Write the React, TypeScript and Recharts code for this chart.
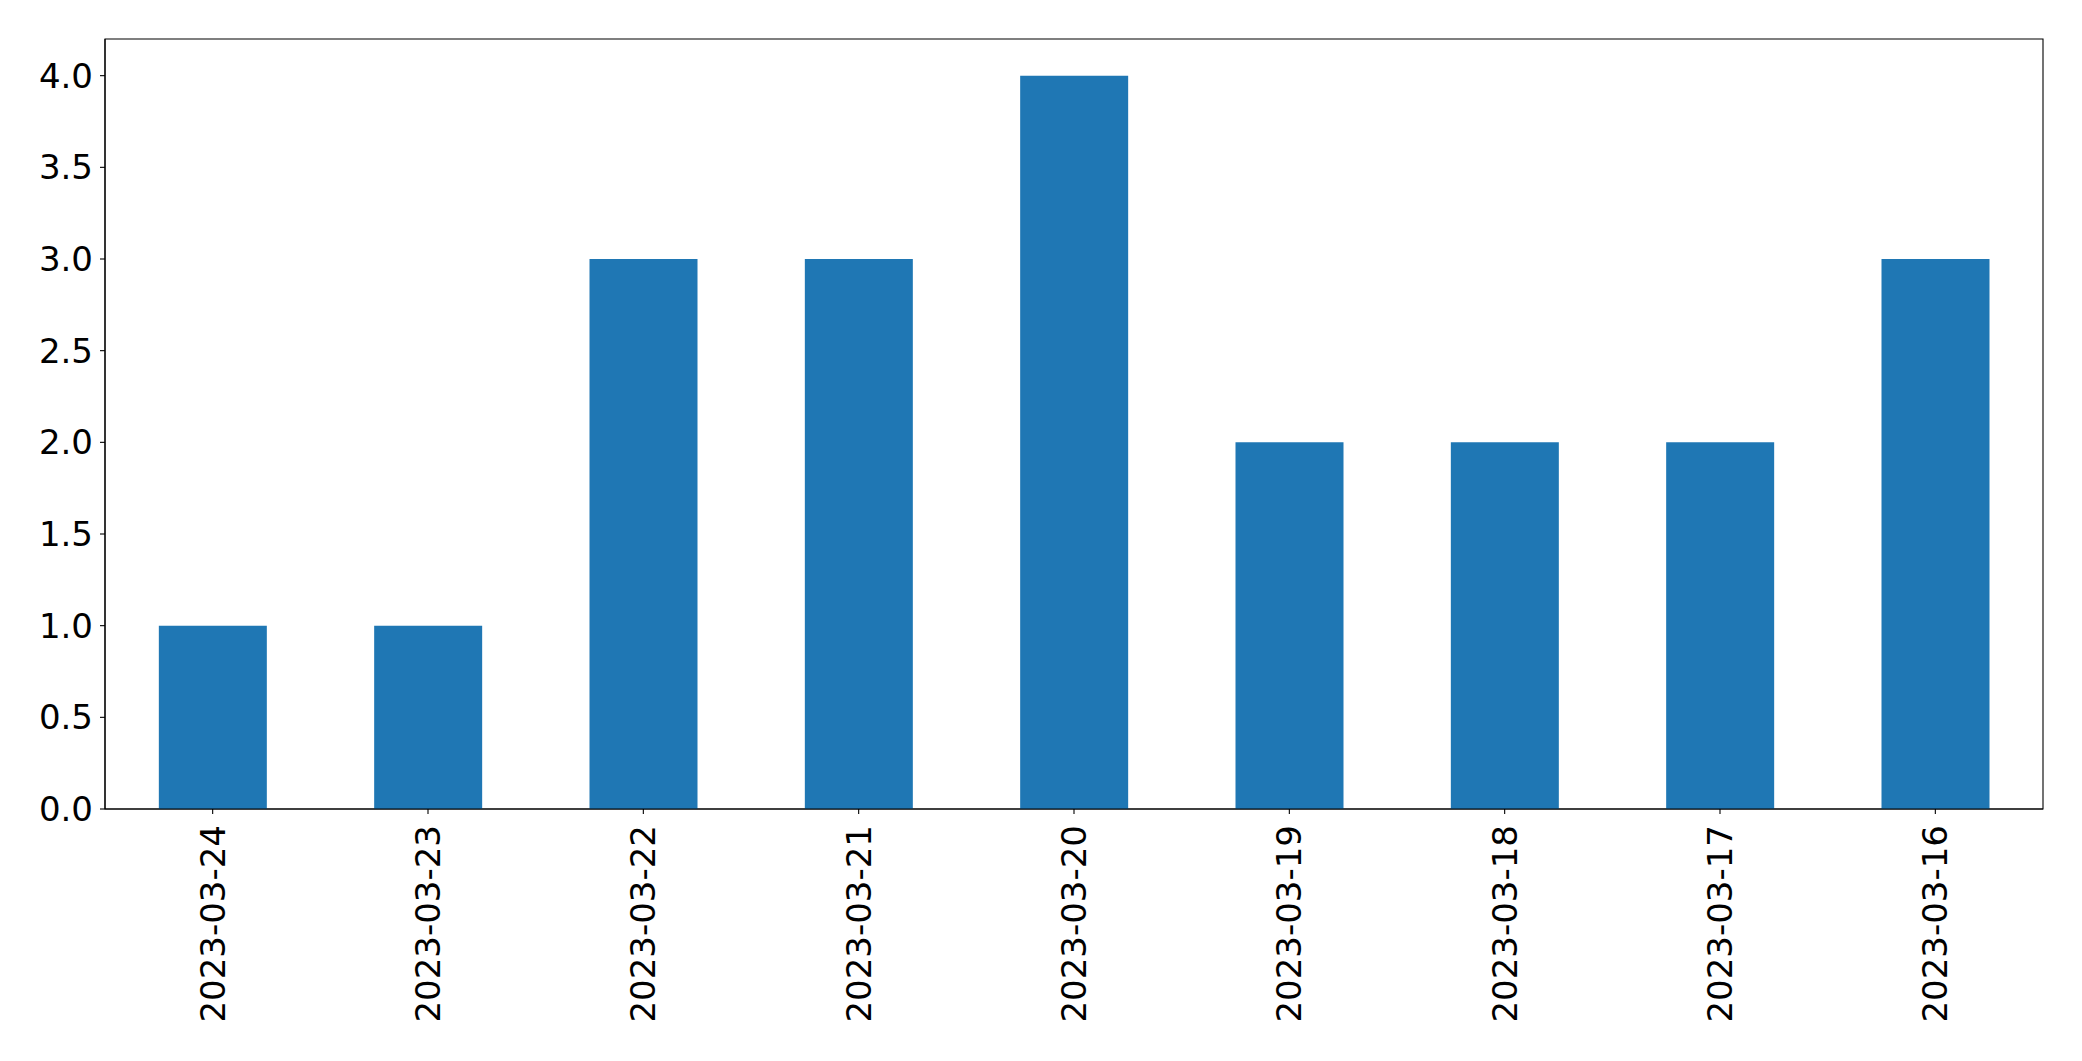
import { BarChart, Bar, XAxis, YAxis, ReferenceArea } from "recharts";

const dates = [
  "2023-03-24",
  "2023-03-23",
  "2023-03-22",
  "2023-03-21",
  "2023-03-20",
  "2023-03-19",
  "2023-03-18",
  "2023-03-17",
  "2023-03-16",
];
const counts = [1, 1, 3, 3, 4, 2, 2, 2, 3];
const yTicks = [0, 0.5, 1, 1.5, 2, 2.5, 3, 3.5, 4];

const data = dates.map((d, i) => ({ date: d, count: counts[i] }));

const FONT = "DejaVu Sans";
const FS = 34;

// rotated date labels, read bottom to top
const DateTick = (props: any) => {
  const { x, y, payload } = props;
  return (
    <text
      transform={`translate(${x},${y + 11}) rotate(-90)`}
      textAnchor="end"
      dominantBaseline="central"
      fontFamily={FONT}
      fontSize={FS}
      fill="#000"
    >
      {payload.value}
    </text>
  );
};

export default function App(): JSX.Element {
  return (
    <div style={{ position: "absolute", left: 0, top: 0, background: "#fff" }}>
      <BarChart
        width={2082}
        height={1061}
        data={data}
        barCategoryGap="25%" // gap on each side -> bars half the band
        margin={{ top: 39, right: 39, left: 0, bottom: 0 }}
      >
        <XAxis
          dataKey="date"
          height={252}
          tick={<DateTick />}
          tickSize={5}
          tickMargin={0}
          interval={0}
          axisLine={{ stroke: "#000", strokeWidth: 1.1 }}
          tickLine={{ stroke: "#000", strokeWidth: 1.1 }}
        />
        <YAxis
          width={105}
          domain={[0, 4.2]}
          ticks={yTicks}
          interval={0}
          tickFormatter={(v: number) => v.toFixed(1)}
          tickSize={5}
          tickMargin={7}
          tick={{ fontFamily: FONT, fontSize: FS, fill: "#000" }}
          axisLine={{ stroke: "#000", strokeWidth: 1.1 }}
          tickLine={{ stroke: "#000", strokeWidth: 1.1 }}
        />
        <Bar dataKey="count" fill="#1f77b4" isAnimationActive={false} />
        {/* frame around the plot area */}
        <ReferenceArea
          y1={0}
          y2={4.2}
          fill="none"
          stroke="#000"
          strokeWidth={1.1}
          ifOverflow="visible"
        />
      </BarChart>
    </div>
  );
}
